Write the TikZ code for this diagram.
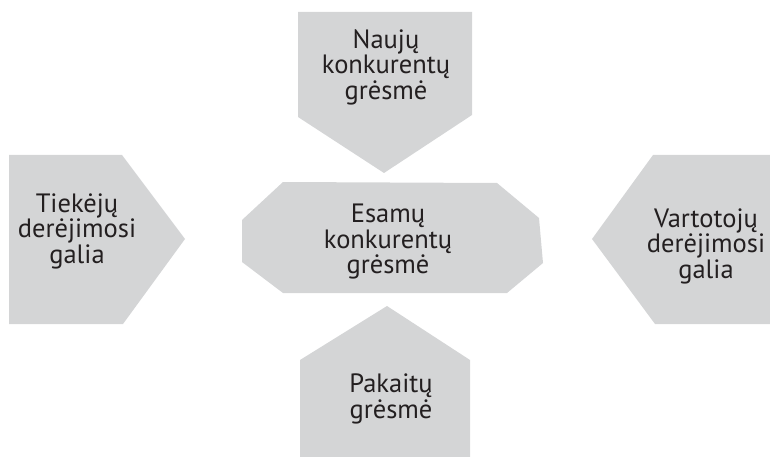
\documentclass[tikz,border=0pt]{standalone}
\usepackage{fontspec}
\setmainfont{PT Sans}
\definecolor{panel}{HTML}{D4D5D6}
\definecolor{ink}{HTML}{231F20}
\begin{document}
\begin{tikzpicture}[x=1pt,y=-1pt,
  panelshape/.style={fill=panel,draw=none},
  label/.style={text=ink,align=center,inner sep=0pt,
    font=\fontsize{26.5}{25.5}\selectfont}]
\useasboundingbox (0,0) rectangle (770,457);

% Forces around the centre
\path[panelshape] (298,12) -- (472,12) -- (472,115) -- (384,173) -- (298,117) -- cycle;
\path[panelshape] (9,155) -- (122,155) -- (185,239) -- (123,324) -- (9,324) -- cycle;
\path[panelshape] (770,155) -- (653,155) -- (592,239) -- (655,324) -- (770,324) -- cycle;
\path[panelshape] (387,306) -- (470,360) -- (470,457) -- (300,457) -- (300,360) -- cycle;
% Central octagon
\path[panelshape] (283,182) -- (497,183) -- (539,218) -- (543,263) -- (507,293)
  -- (283,293) -- (242,262) -- (242,220) -- cycle;

\node[label] (new)  at (386,67)  {Naujų\\konkurentų\\grėsmė};
\node[label] (sup)  at (77,231)  {Tiekėjų\\derėjimosi\\galia};
\node[label] (riv)  at (388,242) {Esamų\\konkurentų\\grėsmė};
\node[label] (buy)  at (706,246) {Vartotojų\\derėjimosi\\galia};
\node[label] (subs) at (391,399) {Pakaitų\\grėsmė};
\end{tikzpicture}
\end{document}
